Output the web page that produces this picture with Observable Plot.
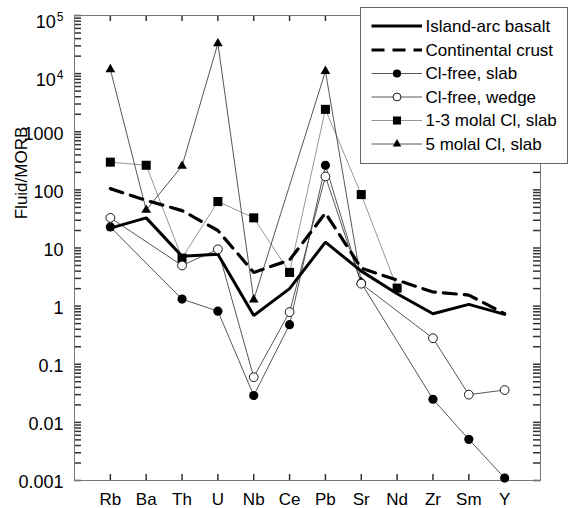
<!DOCTYPE html>
<html><head><meta charset="utf-8">
<script src="https://cdn.jsdelivr.net/npm/d3@7"></script>
<script src="https://cdn.jsdelivr.net/npm/@observablehq/plot@0.6"></script>
<style>
body{margin:0;background:#fff;font-family:"Liberation Sans",Arial,sans-serif;}
#wrap{position:relative;width:571px;height:508px;}
#legend{position:absolute;left:360px;top:7px;width:206px;height:155px;border:1px solid #666;background:#fff;}
#legend svg{display:block;}
</style></head><body><div id="wrap"><div id="legend"></div></div>
<script>
const elements = ["Rb","Ba","Th","U","Nb","Ce","Pb","Sr","Nd","Zr","Sm","Y"];
const islandArcBasalt = [22,33,7.2,7.8,0.69,2.0,12.6,4.0,1.63,0.74,1.07,0.72];
const continentalCrust = [105,66,44,20,3.8,6.2,40,4.5,2.8,1.75,1.55,0.74];
const clFreeSlab = [23,null,1.32,0.82,0.029,0.48,264,2.5,null,0.025,0.0051,0.0011];
const clFreeWedge = [33,null,5.0,9.5,0.060,0.79,170,2.43,null,0.28,0.030,0.036];
const cl13Slab = [300,265,6.7,63,33,3.8,2430,83,2.04,null,null,null];
const cl5Slab = [11800,45,257,33000,1.29,null,11000,2.6,null,null,null,null];
const yTickValues = [1e-3,1e-2,0.1,1,10,100,1000,1e4,1e5];
const yTickLabels = ["0.001","0.01","0.1","1","10","100","1000","10^4","10^5"];
const legendLabels = ["Island-arc basalt","Continental crust","Cl-free, slab","Cl-free, wedge","1-3 molal Cl, slab","5 molal Cl, slab"];
const yLabel = "Fluid/MORB";

const series = [
  {name: legendLabels[4], values: cl13Slab, stroke: "#8a8a8a", sw: 0.9, dash: null, symbol: "square", r: 5.1, fill: "#000"},
  {name: legendLabels[5], values: cl5Slab, stroke: "#444", sw: 0.9, dash: null, symbol: "triangle", r: 3.6, fill: "#000"},
  {name: legendLabels[2], values: clFreeSlab, stroke: "#444", sw: 0.9, dash: null, symbol: "circle", r: 4.6, fill: "#000"},
  {name: legendLabels[3], values: clFreeWedge, stroke: "#444", sw: 0.9, dash: null, symbol: "circle", r: 4.4, fill: "#fff"},
  {name: legendLabels[1], values: continentalCrust, stroke: "#000", sw: 3.2, dash: "13,8", symbol: null},
  {name: legendLabels[0], values: islandArcBasalt, stroke: "#000", sw: 3, dash: null, symbol: null}
];
const rowsOf = s => elements.map((el, i) => ({el, v: s.values[i]})).filter(d => d.v != null);

const minorTicks = [];
for (let e = -3; e < 5; e++) for (let m = 1; m < 10; m++) minorTicks.push(m * Math.pow(10, e));
minorTicks.push(1e5);

const W = 571, H = 508, mL = 74, mR = 31, mT = 15, mB = 28;
const fw = W - mL - mR, fh = H - mT - mB;
const tickStyle = {stroke: "#333", strokeWidth: 1.5};
const marks = [
  Plot.tickY(minorTicks, {y: d => d, insetRight: fw - 7, ...tickStyle}),
  Plot.tickY(minorTicks, {y: d => d, insetLeft: fw - 7, ...tickStyle}),
  Plot.tickX(elements, {x: d => d, insetBottom: fh - 6, ...tickStyle}),
  Plot.tickX(elements, {x: d => d, insetTop: fh - 6, ...tickStyle}),
  Plot.frame({stroke: "#777", fill: "none"}),
  Plot.axisX({anchor: "bottom", tickSize: 0, tickPadding: 12, fontSize: 17, label: null}),
  Plot.axisY(yTickValues, {anchor: "left", tickSize: 0, tickPadding: 11, fontSize: 18, dy: 2,
    tickFormat: d => yTickLabels[yTickValues.indexOf(d)], label: null})
];
for (const s of series) {
  marks.push(Plot.line(rowsOf(s), {x: "el", y: "v", stroke: s.stroke, strokeWidth: s.sw,
    strokeDasharray: s.dash, strokeLinejoin: "miter"}));
}
for (const s of series) {
  if (!s.symbol) continue;
  marks.push(Plot.dot(rowsOf(s), {x: "el", y: "v", symbol: s.symbol, r: s.r, fill: s.fill,
    stroke: "#000", strokeWidth: s.fill === "#fff" ? 0.9 : 0}));
}

const chart = Plot.plot({
  width: W, height: H,
  marginLeft: mL, marginRight: mR, marginTop: mT, marginBottom: mB,
  style: {fontFamily: "'Liberation Sans', Arial, sans-serif", fontSize: "17px", background: "#fff", color: "#000", overflow: "visible"},
  x: {type: "point", domain: elements, padding: 1, round: false},
  y: {type: "log", domain: [1e-3, 1e5]},
  marks
});
document.getElementById("wrap").insertBefore(chart, document.getElementById("legend"));

// superscripts for powers of ten
const svgNS = "http://www.w3.org/2000/svg";
chart.querySelectorAll("text").forEach(t => {
  const s = t.textContent;
  if (s.includes("^")) {
    const [base, exp] = s.split("^");
    t.textContent = "";
    t.setAttribute("dy", "5");
    const a = document.createElementNS(svgNS, "tspan");
    a.textContent = base;
    const b = document.createElementNS(svgNS, "tspan");
    b.textContent = exp;
    b.setAttribute("font-size", "12");
    b.setAttribute("baseline-shift", "7");
    b.setAttribute("dx", "1");
    t.appendChild(a); t.appendChild(b);
  }
});

// y axis title
d3.select(chart).append("text")
  .attr("transform", "translate(21,173) rotate(-90)")
  .attr("text-anchor", "middle").attr("dy", "0.35em")
  .style("font-size", "17px").attr("fill", "#000")
  .text(yLabel);

// legend
const lsvg = d3.select("#legend").append("svg").attr("width", 206).attr("height", 155)
  .style("font-family", "'Liberation Sans', Arial, sans-serif");
const legendOrder = [5, 4, 2, 3, 0, 1];
const rowY = [18, 42, 65.5, 89, 112.5, 136];
legendOrder.forEach((si, k) => {
  const s = series[si];
  const g = lsvg.append("g").attr("transform", `translate(0,${rowY[k]})`);
  g.append("line").attr("x1", 10.5).attr("x2", 61).attr("y1", 0).attr("y2", 0)
    .attr("stroke", s.stroke).attr("stroke-width", s.sw).attr("stroke-dasharray", s.dash ? "13,8" : null);
  if (s.symbol) {
    const sym = {circle: d3.symbolCircle, square: d3.symbolSquare, triangle: d3.symbolTriangle}[s.symbol];
    g.append("path").attr("transform", "translate(36,0)")
      .attr("d", d3.symbol(sym, Math.PI * s.r * s.r * 0.8)())
      .attr("fill", s.fill).attr("stroke", "#000").attr("stroke-width", s.fill === "#fff" ? 0.9 : 0);
  }
  g.append("text").attr("x", 64.5).attr("y", 0).attr("dy", "0.35em").style("font-size", "17px").text(s.name);
});
</script></body></html>
